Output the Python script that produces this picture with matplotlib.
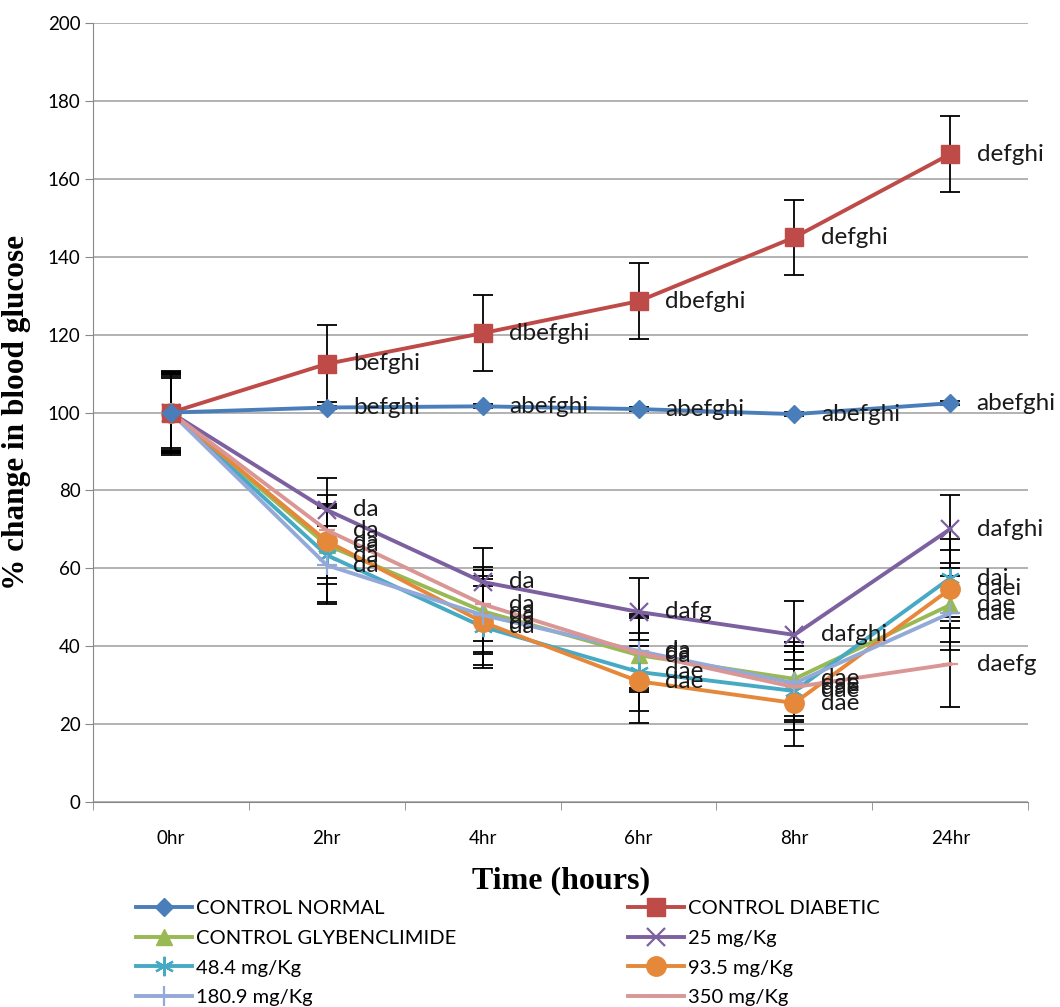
import matplotlib
matplotlib.use("Agg")
import matplotlib.pyplot as plt
import numpy as np

categories = ["0hr", "2hr", "4hr", "6hr", "8hr", "24hr"]

series_names = ["CONTROL NORMAL", "CONTROL DIABETIC", "CONTROL GLYBENCLIMIDE", "25 mg/Kg",
                "48.4 mg/Kg", "93.5 mg/Kg", "180.9 mg/Kg", "350 mg/Kg"]

normal = [100, 101.3, 101.6, 100.9, 99.6, 102.4]
diabetic = [100, 112.5, 120.4, 128.6, 145.0, 166.4]
glyb = [100, 66.0, 49.0, 37.7, 31.6, 50.6]
mg25 = [100, 75.0, 56.5, 48.8, 42.9, 70.1]
mg48 = [100, 63.4, 45.0, 33.4, 28.5, 57.5]
mg93 = [100, 67.0, 46.2, 31.0, 25.4, 54.7]
mg180 = [100, 60.8, 48.0, 38.8, 30.5, 48.5]
mg350 = [100, 69.8, 50.8, 38.3, 29.5, 35.4]

err_normal = [10.8, 0.5, 0.5, 0.5, 0.5, 0.5]
err_diabetic = [10.5, 9.9, 9.8, 9.7, 9.7, 9.7]
err_glyb = [9.5, 10.0, 10.5, 9.5, 9.5, 9.5]
err_25 = [9.0, 8.3, 8.7, 8.7, 8.7, 8.7]
err_48 = [10.0, 12.0, 10.5, 10.0, 10.0, 10.0]
err_93 = [10.5, 9.5, 11.0, 10.7, 11.0, 10.0]
err_180 = [9.8, 10.0, 10.0, 9.5, 9.5, 9.5]
err_350 = [10.2, 9.0, 9.5, 9.5, 9.0, 11.0]

labels_normal = ["", "befghi", "abefghi", "abefghi", "abefghi", "abefghi"]
labels_diabetic = ["", "befghi", "dbefghi", "dbefghi", "defghi", "defghi"]
labels_glyb = ["", "da", "da", "da", "dae", "dae"]
labels_25 = ["", "da", "da", "dafg", "dafghi", "dafghi"]
labels_48 = ["", "da", "da", "dae", "dae", "dai"]
labels_93 = ["", "da", "da", "dae", "dae", "daei"]
labels_180 = ["", "da", "da", "da", "dae", "dae"]
labels_350 = ["", "da", "da", "da", "dae", "daefg"]

values = [normal, diabetic, glyb, mg25, mg48, mg93, mg180, mg350]
errors = [err_normal, err_diabetic, err_glyb, err_25, err_48, err_93, err_180, err_350]
point_labels = [labels_normal, labels_diabetic, labels_glyb, labels_25, labels_48, labels_93, labels_180, labels_350]

colors = ["#4A7EBB", "#BE4B48", "#98B954", "#7D60A0", "#46AAC5", "#E5883A", "#93A9D8", "#D99694"]
markers = ["D", "s", "^", "x", (6, 2, 0), "o", "+", "_"]
msizes = [9, 13, 12, 13, 14, 14, 14, 12]

plt.rcParams['font.family'] = ['Lato', 'DejaVu Sans']

fig = plt.figure(figsize=(10.6, 10.07), dpi=100)
ax = fig.add_axes([0.0877, 0.2036, 0.8823, 0.7734])

x = np.arange(len(categories))
order = [2, 3, 4, 5, 6, 7, 1, 0]
handles = {}
for i in order:
    y = values[i]
    ax.errorbar(x, y, yerr=errors[i], fmt='none', ecolor='black', elinewidth=1.3,
                capsize=7, capthick=1.3, zorder=2)
for i in order:
    y = values[i]
    mk = markers[i]
    kw = dict(color=colors[i], lw=2.8, marker=mk, markersize=msizes[i],
              markerfacecolor=colors[i], markeredgecolor=colors[i], zorder=3)
    if mk in ("x", "+", "_", (6, 2, 0)):
        kw['markeredgewidth'] = 1.6
    h, = ax.plot(x, y, label=series_names[i], **kw)
    handles[i] = h
    for xi, yi, lab in zip(x, y, point_labels[i]):
        if lab:
            ax.annotate(lab, (xi, yi), xytext=(19, 0), textcoords='offset points',
                        va='center', ha='left', fontsize=17.5, color='#1a1a1a', zorder=5)

ax.set_xlim(-0.5, 5.5)
ax.set_ylim(0, 200)
ax.set_yticks(np.arange(0, 201, 20))
ax.set_xticks(x)
ax.set_xticklabels(categories)
ax.set_xticks(np.arange(-0.5, 5.6, 1), minor=True)
ax.tick_params(axis='x', which='major', length=0, labelsize=13.5, pad=20)
ax.tick_params(axis='x', which='minor', length=6, color='#888888')
ax.tick_params(axis='y', which='major', length=6, labelsize=13.5, color='#888888', pad=3)
ax.yaxis.grid(True, color='#a6a6a6', lw=1.2)
ax.set_axisbelow(True)
for s in ['top', 'right']:
    ax.spines[s].set_visible(False)
ax.spines['left'].set_color('#888888')
ax.spines['bottom'].set_color('#888888')

ax.set_xlabel("Time (hours)", fontsize=23, fontweight='bold', family='Liberation Serif', labelpad=14)
ax.set_ylabel("% change in blood glucose", fontsize=22.5, fontweight='bold', family='Liberation Serif')
ax.yaxis.set_label_coords(-0.066, 0.5)

left_col = [0, 2, 4, 6]
right_col = [1, 3, 5, 7]
for col, xpos in ((left_col, 0.128), (right_col, 0.592)):
    leg = fig.legend([handles[i] for i in col], [series_names[i] for i in col],
                     loc='upper left', bbox_to_anchor=(xpos, 0.106), frameon=False,
                     prop={'size': 14.5},
                     handlelength=2.8, handletextpad=0.2, labelspacing=0.62,
                     borderaxespad=0, borderpad=0)

fig.savefig("out.png", dpi=100)
